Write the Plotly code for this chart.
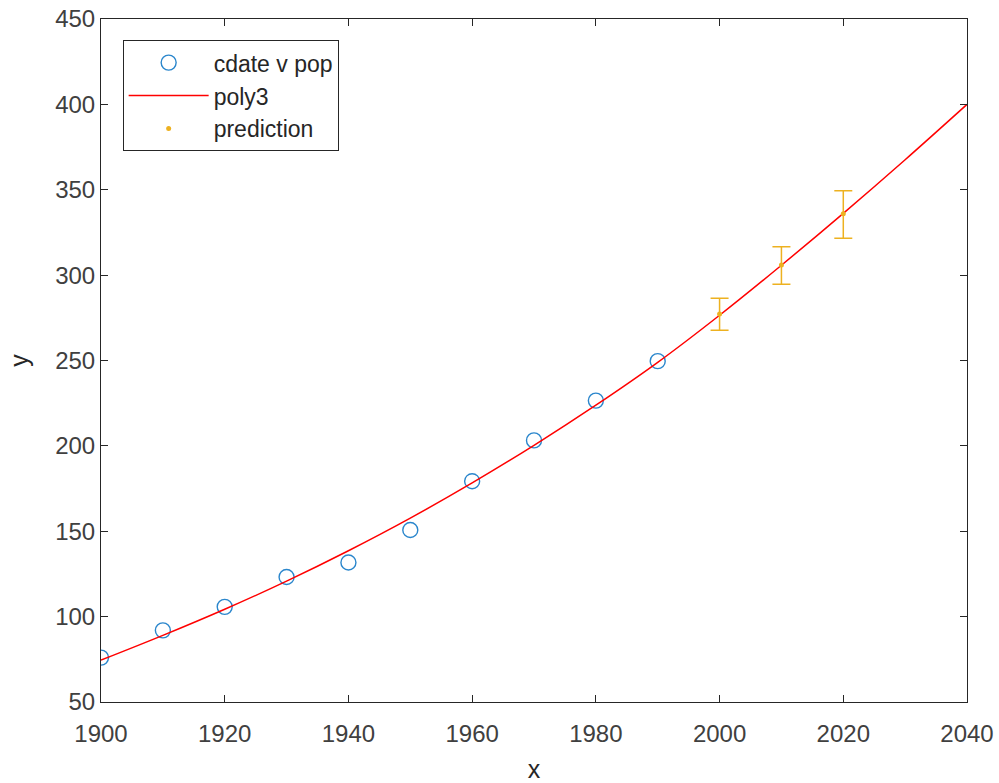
import plotly.graph_objects as go

cdate = [1900, 1910, 1920, 1930, 1940, 1950, 1960, 1970, 1980, 1990]
pop = [75.995, 91.972, 105.711, 123.203, 131.669, 150.697, 179.323, 203.212, 226.505, 249.633]

fit_x = [1900, 1910, 1920, 1930, 1940, 1950, 1960, 1970, 1980, 1990, 2000, 2010, 2020, 2030, 2040]
fit_y = [74.5, 89.0, 104.3, 120.8, 138.6, 157.7, 178.3, 200.3, 223.8, 248.9, 276.5, 305.8, 336.2, 367.6, 400.0]

pred_x = [2000, 2010, 2020]
pred_y = [277.3, 306.0, 336.0]
pred_hi = [286.4, 316.6, 349.4]
pred_lo = [267.7, 294.6, 321.6]

err_plus = [h - c for h, c in zip(pred_hi, pred_y)]
err_minus = [c - l for c, l in zip(pred_y, pred_lo)]

FONT = "Liberation Sans, Arial, sans-serif"

fig = go.Figure()
fig.add_trace(go.Scatter(x=cdate, y=pop, mode="markers", name="cdate v pop",
                         marker=dict(symbol="circle-open", size=15, color="#2a86cc",
                                     line=dict(width=1.4, color="#2a86cc"))))
fig.add_trace(go.Scatter(x=fit_x, y=fit_y, mode="lines", name="poly3", line_shape="spline",
                         line=dict(color="#FF0000", width=1.5)))
fig.add_trace(go.Scatter(x=pred_x, y=pred_y, mode="markers", name="prediction",
                         marker=dict(symbol="circle", size=5, color="#EDB120"),
                         error_y=dict(type="data", symmetric=False, array=err_plus,
                                      arrayminus=err_minus, color="#EDB120",
                                      thickness=1.5, width=9)))

axis_common = dict(showline=True, linecolor="#262626", linewidth=1, mirror="ticks",
                   ticks="inside", ticklen=7, tickcolor="#262626", showgrid=False,
                   zeroline=False, automargin=False, ticklabeloverflow="allow",
                   tickfont=dict(family=FONT, size=24, color="#404040"))

fig.update_layout(
    width=999, height=783,
    margin=dict(l=101, r=32, t=19, b=81),
    paper_bgcolor="white", plot_bgcolor="white",
    font=dict(family=FONT, color="#262626"),
    xaxis=dict(range=[1900, 2040], tickmode="array",
               tickvals=[1900, 1920, 1940, 1960, 1980, 2000, 2020, 2040],
               ticklabelstandoff=10,
               title=dict(text="x", font=dict(family=FONT, size=25, color="#262626"), standoff=14),
               **axis_common),
    yaxis=dict(range=[50, 450], tickmode="array",
               tickvals=[50, 100, 150, 200, 250, 300, 350, 400, 450],
               title=dict(text="y", font=dict(family=FONT, size=25, color="#262626"), standoff=19),
               **axis_common),
    legend=dict(x=0.025, y=0.969, xanchor="left", yanchor="top",
                bordercolor="#262626", borderwidth=1, bgcolor="white",
                font=dict(family=FONT, size=23, color="#262626"),
                itemwidth=80, tracegroupgap=0),
    showlegend=True,
)

fig.write_html("out.html", config={"displayModeBar": False},
               post_script="document.body.style.margin='0';document.body.style.overflow='hidden';")
